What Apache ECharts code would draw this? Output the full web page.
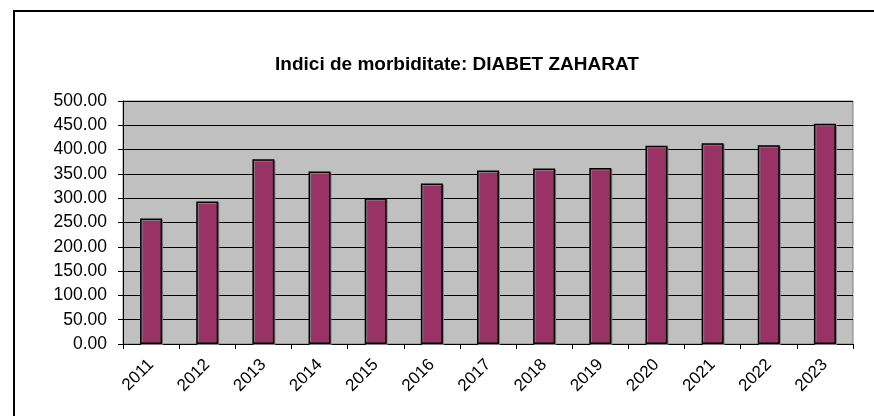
<!DOCTYPE html>
<html>
<head>
<meta charset="utf-8">
<script src="https://cdn.jsdelivr.net/npm/echarts@6/dist/echarts.min.js"></script>
<style>
  html, body { margin: 0; padding: 0; background: #fff; }
  #chart { width: 874px; height: 416px; }
</style>
</head>
<body>
<div id="chart"></div>
<script>
// date
var years = ["2011", "2012", "2013", "2014", "2015", "2016", "2017", "2018", "2019", "2020", "2021", "2022", "2023"];
var values = [258, 293, 380, 355, 300, 330, 357, 361, 362, 408, 413, 409, 453];
var titleText = "Indici de morbiditate: DIABET ZAHARAT";

var font = 'Arial, "Liberation Sans", sans-serif';

var chart = echarts.init(document.getElementById("chart"));

var option = {
  animation: false,
  title: {
    text: titleText,
    left: 452,
    textAlign: "center",
    top: 50,
    textStyle: { fontFamily: font, fontSize: 19, fontWeight: "bold", color: "#000" }
  },
  //rama exterioara
  graphic: [{
    type: "rect",
    shape: { x: 14, y: 11, width: 900, height: 500 },
    style: { fill: "none", stroke: "#000", lineWidth: 2 }
  }],
  grid: {
    left: 123,
    right: 21,
    top: 101,
    bottom: 72,
    show: true,
    backgroundColor: "#c0c0c0",
    borderColor: "#808080",
    borderWidth: 1
  },
  xAxis: {
    type: "category",
    data: years,
    boundaryGap: true,
    axisLine: { show: true, lineStyle: { color: "#000", width: 1 } },
    axisTick: { show: true, alignWithLabel: false, length: 5, lineStyle: { color: "#000" } },
    axisLabel: {
      rotate: 45,
      margin: 18,
      interval: 0,
      color: "#000",
      fontFamily: font,
      fontSize: 17
    },
    splitLine: { show: false }
  },
  yAxis: {
    type: "value",
    min: 0,
    max: 500,
    interval: 50,
    axisLine: { show: true, lineStyle: { color: "#000", width: 1 } },
    axisTick: { show: true, length: 5, lineStyle: { color: "#000" } },
    axisLabel: {
      margin: 16,
      color: "#000",
      fontFamily: font,
      fontSize: 17.5,
      formatter: function (v) { return v.toFixed(2); }
    },
    splitLine: { show: true, lineStyle: { color: "#000", width: 1 } }
  },
  series: [{
    type: "bar",
    data: values,
    barWidth: 22,
    itemStyle: {
      color: "#993366",
      borderColor: "#000",
      borderWidth: 1.5,
      shadowColor: "#808080",
      shadowOffsetX: 1,
      shadowOffsetY: 1
    }
  }]
};

chart.setOption(option);
</script>
</body>
</html>
